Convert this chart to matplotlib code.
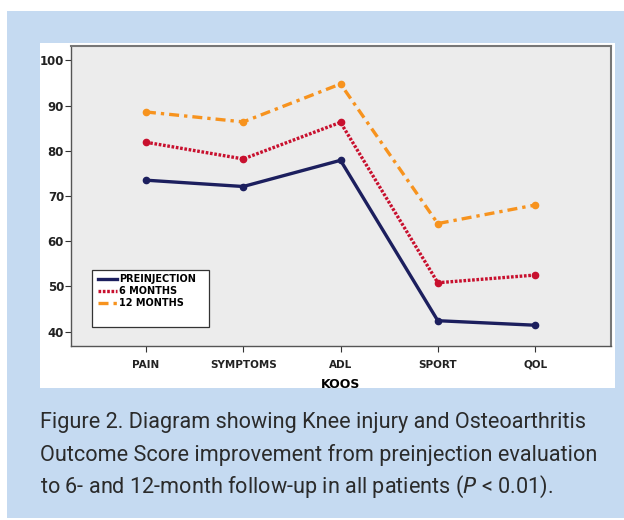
import matplotlib.pyplot as plt
from matplotlib.patches import Rectangle

categories = ["PAIN", "SYMPTOMS", "ADL", "SPORT", "QOL"]
preinjection = [73.5, 72.1, 77.9, 42.4, 41.4]
months_6 = [81.9, 78.2, 86.3, 50.8, 52.5]
months_12 = [88.6, 86.4, 94.8, 63.9, 68.0]
y_ticks = [40, 50, 60, 70, 80, 90, 100]

W, H = 624, 520
fig = plt.figure(figsize=(6.24, 5.2), dpi=100)
fig.patch.set_facecolor("white")

# blue page background and white chart panel (pixel coords -> figure fraction)
def box(x0, y0, x1, y1, color):
    fig.patches.append(Rectangle((x0 / W, 1 - y1 / H), (x1 - x0) / W, (y1 - y0) / H,
                                 transform=fig.transFigure, facecolor=color,
                                 edgecolor="none", zorder=-10))

box(7, 11, 624, 518, "#c5daf1")
box(40, 43, 615, 388, "white")

ax = fig.add_axes([71 / W, 1 - 346 / H, (611 - 71) / W, (346 - 46) / H])
ax.set_facecolor("#ececec")

x = range(len(categories))
ax.plot(x, preinjection, color="#1c1f5e", lw=2.4, marker="o", ms=4.5, label="PREINJECTION")
ax.plot(x, months_6, color="#c8102e", lw=2.4, ls=(0, (0.8, 0.5)), marker="o", ms=4.5, label="6 MONTHS")
ax.plot(x, months_12, color="#f7931e", lw=2.4, ls=(0, (3, 1.5, 1, 1.5)), marker="o", ms=4.5, label="12 MONTHS")

ax.set_xlim(-0.77, 4.78)
ax.set_ylim(36.8, 103.2)
ax.set_xticks(list(x))
ax.set_xticklabels(categories, fontsize=7.5, fontweight="bold", color="#222222")
ax.set_yticks(y_ticks)
ax.set_yticklabels([str(v) for v in y_ticks], fontsize=8.5, fontweight="bold", color="#222222")
ax.tick_params(length=4, width=0.8, color="#333333")
ax.tick_params(axis="x", pad=6)
ax.tick_params(axis="y", pad=1)
ax.set_xlabel("KOOS", fontsize=9, fontweight="bold", labelpad=6)

for s in ["top", "right"]:
    ax.spines[s].set_color("#777777")
    ax.spines[s].set_linewidth(1.5)
for s in ["left", "bottom"]:
    ax.spines[s].set_color("#555555")
    ax.spines[s].set_linewidth(1.0)

# legend frame drawn separately (it has empty room at the bottom)
lx0, lx1, ly0, ly1 = 92, 209, 270, 327
ax.add_patch(Rectangle(((lx0 - 71) / 540, (346 - ly1) / 300), (lx1 - lx0) / 540, (ly1 - ly0) / 300,
                       transform=ax.transAxes, facecolor="white", edgecolor="#333333",
                       lw=0.9, zorder=4))
leg = ax.legend(loc="upper left", bbox_to_anchor=((lx0 - 71) / 540, (346 - ly0 + 2) / 300),
                frameon=False, handlelength=1.9, handletextpad=0.25, borderpad=0.15,
                labelspacing=0.2, prop={"weight": "bold", "size": 7})
leg.set_zorder(5)
for h in leg.get_lines():
    h.set_marker("")

lines = ["Figure 2. Diagram showing Knee injury and Osteoarthritis",
         "Outcome Score improvement from preinjection evaluation",
         "to 6- and 12-month follow-up in all patients ($\\it{P}$ < 0.01)."]
texts = []
for i, t in enumerate(lines):
    texts.append(fig.text(40 / W, 1 - (428 + 32.5 * i) / H, t, fontsize=15, family="Roboto",
                          color="#2b2b2b", va="baseline", ha="left"))

# fit the first caption line to the reference width
r = fig.canvas.get_renderer()
w = texts[0].get_window_extent(r).width
size = 15 * 546 / w
for t in texts:
    t.set_fontsize(size)

fig.savefig("out.png", dpi=100)
